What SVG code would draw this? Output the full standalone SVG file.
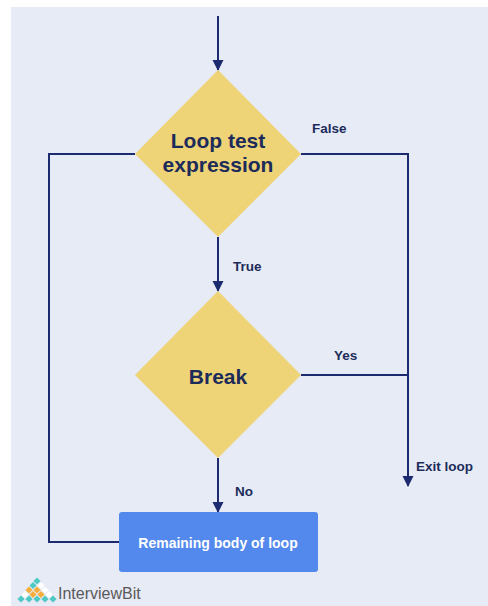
<svg xmlns="http://www.w3.org/2000/svg" width="488" height="606" viewBox="0 0 488 606">
<style>
.bg{fill:#ffffff}
.panel{fill:#E7EBF6}
.dia{fill:#EED377}
.box{fill:#5389EC}
.ln{fill:none;stroke:#1C2B6F;stroke-width:2}
.big{font-family:"Liberation Sans",Arial,sans-serif;font-weight:bold;font-size:21px;fill:#1C2B5A;text-anchor:middle}
.lbl{font-family:"Liberation Sans",Arial,sans-serif;font-weight:bold;font-size:13.5px;fill:#1C2B5A}
.btxt{font-family:"Liberation Sans",Arial,sans-serif;font-weight:bold;font-size:14px;fill:#ffffff;text-anchor:middle}
.logo{font-family:"Liberation Sans",Arial,sans-serif;font-size:16px;fill:#5A5A5A}
.t{fill:#4FC9C4}.o{fill:#F5AE3D}.w{fill:#ffffff}
</style>
<defs>
<marker id="arr" markerUnits="userSpaceOnUse" markerWidth="12" markerHeight="12" refX="10" refY="5.5" orient="auto">
<path d="M0,0 L11,5.5 L0,11 z" fill="#1C2B6F"/>
</marker>
<path id="sd" d="M0,-3.6 L3.6,0 L0,3.6 L-3.6,0 z"/>
</defs>
<rect class="bg" x="0" y="0" width="488" height="606"/>
<rect class="panel" x="11" y="7" width="477" height="599"/>
<g id="connectors">
<line class="ln" x1="218" y1="16" x2="218" y2="70" marker-end="url(#arr)"/>
<polyline class="ln" points="135,154 49,154 49,542 119,542"/>
<polyline class="ln" points="301,154 408,154 408,486" marker-end="url(#arr)"/>
<line class="ln" x1="218" y1="237" x2="218" y2="291" marker-end="url(#arr)"/>
<line class="ln" x1="301" y1="375" x2="408" y2="375"/>
<line class="ln" x1="218" y1="458" x2="218" y2="512" marker-end="url(#arr)"/>
<text class="lbl" x="312" y="133">False</text>
<text class="lbl" x="233" y="271">True</text>
<text class="lbl" x="334" y="360">Yes</text>
<text class="lbl" x="416" y="471">Exit loop</text>
<text class="lbl" x="235" y="496">No</text>
</g>
<g id="loop-test">
<polygon class="dia" points="218,70 301,154 218,237 135,154"/>
<text class="big" x="218" y="148">Loop test</text>
<text class="big" x="218" y="172">expression</text>
</g>
<g id="break">
<polygon class="dia" points="218,291 301,375 218,458 135,375"/>
<text class="big" x="218" y="384">Break</text>
</g>
<g id="body">
<rect class="box" x="119" y="512" width="199" height="60" rx="3"/>
<text class="btxt" x="218" y="548">Remaining body of loop</text>
</g>
<g id="logo">
<use href="#sd" class="t" x="37" y="581"/>
<use href="#sd" class="t" x="33" y="585.5"/>
<use href="#sd" class="w" x="41" y="585.5"/>
<use href="#sd" class="o" x="29" y="590"/>
<use href="#sd" class="o" x="37" y="590"/>
<use href="#sd" class="w" x="45" y="590"/>
<use href="#sd" class="w" x="25" y="594.5"/>
<use href="#sd" class="o" x="33" y="594.5"/>
<use href="#sd" class="o" x="41" y="594.5"/>
<use href="#sd" class="w" x="49" y="594.5"/>
<use href="#sd" class="t" x="21" y="599"/>
<use href="#sd" class="t" x="29" y="599"/>
<use href="#sd" class="t" x="37" y="599"/>
<use href="#sd" class="t" x="45" y="599"/>
<use href="#sd" class="t" x="53" y="599"/>
<text class="logo" x="58" y="599">InterviewBit</text>
</g>
</svg>
